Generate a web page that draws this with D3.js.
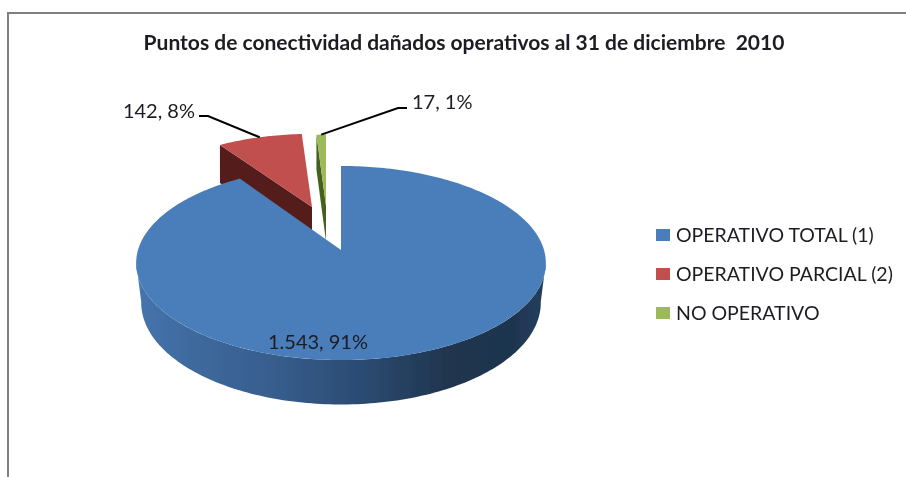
<!DOCTYPE html>
<html>
<head>
<meta charset="utf-8">
<script src="https://cdn.jsdelivr.net/npm/d3@7"></script>
<style>
  html, body { margin: 0; padding: 0; background: #fff; }
  svg { display: block; }
  text { font-family: Lato, "Open Sans", sans-serif; fill: #1c1c24; }
</style>
</head>
<body>
<svg id="chart" width="906" height="477"></svg>
<script>
// Data
const categories = ["OPERATIVO TOTAL (1)", "OPERATIVO PARCIAL (2)", "NO OPERATIVO"];
const values = [1543, 142, 17];
const valueLabels = ["1.543, 91%", "142, 8%", "17, 1%"];
const chartTitle = "Puntos de conectividad dañados operativos al 31 de diciembre  2010";

const colors = ["#4a7ebb", "#c0504d", "#9bbb59"];
const wallColors = ["#2f5078", "#551f1c", "#44611f"];

// Fake 3D: the pie circle goes through a small perspective projection
const center = { x: 341, y: 250 };
const top3d = { rx: 203, ry: 95.3, k: 0.134 };
const bottom3d = { rx: 198, ry: 100, k: 0.134, dy: 39 };

// how far each slice is pulled out of the pie (blue stays in place)
const explode = [
    { dx: 0, dy: 0, sx: 1, sy: 1, depth: 39 },
    { dx: -29, dy: -43, sx: 0.91, sy: 0.87, depth: 38 },
    { dx: -15, dy: -44, sx: 0.85, sy: 0.85, depth: 35 }
];

const svg = d3.select("#chart");
const defs = svg.append("defs");

defs.append("filter").attr("id", "soft")
    .append("feGaussianBlur").attr("stdDeviation", 0.5);

const wallGrad = defs.append("linearGradient")
    .attr("id", "wallGrad")
    .attr("gradientUnits", "userSpaceOnUse")
    .attr("x1", 138).attr("x2", 546).attr("y1", 0).attr("y2", 0);
[["0%", "#4674ad"], ["10%", "#3f6ca1"], ["35%", "#365c8b"], ["55%", "#2b4b72"],
 ["75%", "#203650"], ["92%", "#1f344f"], ["100%", "#24405f"]].forEach(s => {
    wallGrad.append("stop").attr("offset", s[0]).attr("stop-color", s[1]);
});

const pie = d3.pie().sort(null).value(d => d);
const slices = pie(values);

function project(angle, shape, ex) {
    const u = Math.sin(angle), v = -Math.cos(angle);
    const den = 1 - shape.k * v;
    return [
        center.x + ex.dx + ex.sx * shape.rx * u / den,
        center.y + ex.dy + (shape.dy || 0) + ex.sy * shape.ry * v / den
    ];
}

const line = d3.line();

function arcPoints(a0, a1, shape, ex) {
    const n = Math.max(2, Math.ceil((a1 - a0) / 0.02));
    return d3.range(n + 1).map(i => project(a0 + (a1 - a0) * i / n, shape, ex));
}

const plot = svg.append("g").attr("filter", "url(#soft)");

// frame, only top and left of it are in the scan
plot.append("path")
    .attr("d", line([[906, 13], [8, 13], [8, 477]]))
    .attr("fill", "none").attr("stroke", "#808080").attr("stroke-width", 2);

// draw order: green, red, then blue on top of their walls
[2, 1, 0].forEach(i => {
    const s = slices[i], ex = explode[i];
    const apex = [center.x + ex.dx, center.y + ex.dy];
    const g = plot.append("g");

    if (i === 0) {
        // outer wall of the big slice, from widest point to widest point
        const a0 = Math.PI * 0.54, a1 = Math.PI * 1.46;
        const pts = arcPoints(a0, a1, top3d, ex)
            .concat(arcPoints(a0, a1, bottom3d, ex).reverse());
        g.append("path").attr("d", line(pts) + "Z").attr("fill", "url(#wallGrad)");
    } else {
        // cut face seen on the left of the pulled out slices
        const outer = project(s.startAngle, top3d, ex);
        g.append("path")
            .attr("d", line([outer, apex, [apex[0], apex[1] + ex.depth], [outer[0], outer[1] + ex.depth]]) + "Z")
            .attr("fill", wallColors[i]);
    }

    const face = [apex].concat(arcPoints(s.startAngle, s.endAngle, top3d, ex));
    g.append("path").attr("d", line(face) + "Z").attr("fill", colors[i]);
});

// title
plot.append("text")
    .attr("x", 464).attr("y", 50)
    .attr("text-anchor", "middle")
    .attr("font-size", 21).attr("font-weight", 700)
    .style("white-space", "pre")
    .text(chartTitle);

// data labels
const midAngle = s => (s.startAngle + s.endAngle) / 2;

plot.append("text")
    .attr("x", 318).attr("y", 349)
    .attr("text-anchor", "middle").attr("font-size", 20)
    .text(valueLabels[0]);

const redEnd = project(midAngle(slices[1]), top3d, explode[1]);
plot.append("path")
    .attr("d", line([[199, 116], [208, 116], redEnd]))
    .attr("fill", "none").attr("stroke", "#000").attr("stroke-width", 2);
plot.append("text")
    .attr("x", 195).attr("y", 118)
    .attr("text-anchor", "end").attr("font-size", 20)
    .text(valueLabels[1]);

const greenEnd = project(midAngle(slices[2]), top3d, explode[2]);
plot.append("path")
    .attr("d", line([[407, 108], [398, 108], greenEnd]))
    .attr("fill", "none").attr("stroke", "#000").attr("stroke-width", 2);
plot.append("text")
    .attr("x", 412).attr("y", 109)
    .attr("text-anchor", "start").attr("font-size", 20)
    .text(valueLabels[2]);

// legend
const legendY = d3.scalePoint().domain(categories).range([235, 313]);

const legend = plot.selectAll(".legend")
    .data(categories)
    .enter()
    .append("g")
    .attr("class", "legend")
    .attr("transform", d => `translate(656, ${legendY(d)})`);

legend.append("rect")
    .attr("x", 0).attr("y", -6)
    .attr("width", 14).attr("height", 12)
    .attr("fill", (d, i) => colors[i]);

legend.append("text")
    .attr("x", 20).attr("y", 6.5)
    .attr("font-size", 19.5)
    .text(d => d);
</script>
</body>
</html>
